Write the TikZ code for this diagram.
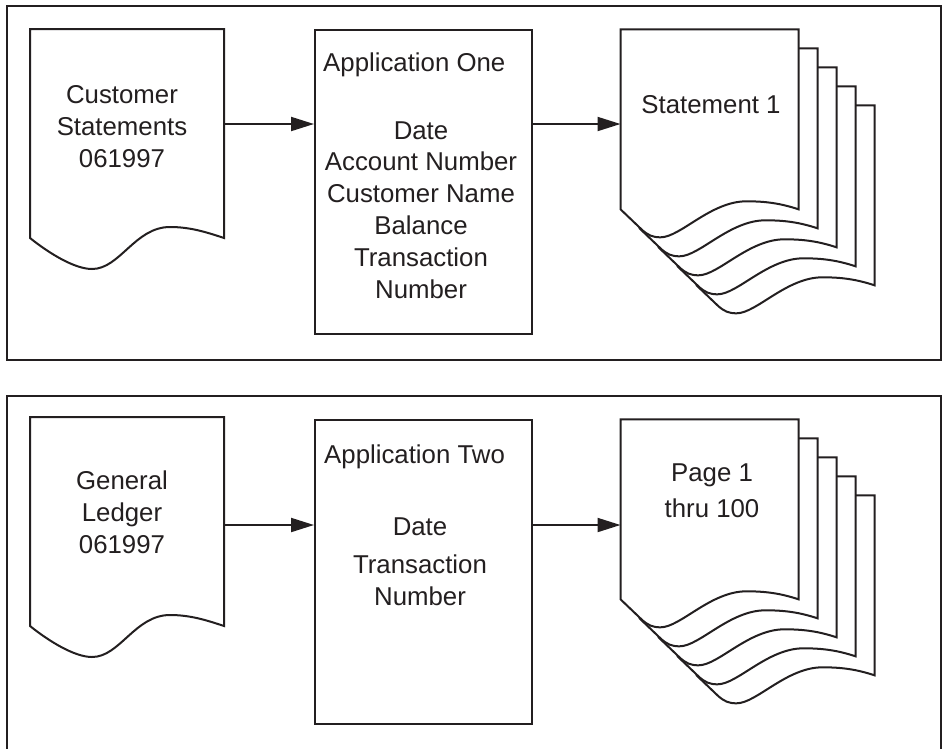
\documentclass[tikz,border=0pt]{standalone}
\usepackage{fontspec}
\setmainfont{Liberation Sans}
\usetikzlibrary{arrows.meta}
\definecolor{ink}{HTML}{231F20}
\tikzset{
  frame/.style={draw=ink, line width=2.4pt, inner sep=0pt, anchor=north west,
    minimum width=934pt, minimum height=354pt},
  procbox/.style={draw=ink, line width=2pt, fill=white, inner sep=0pt, anchor=north west,
    minimum width=217pt, minimum height=304pt},
  docarea/.style={inner sep=0pt, anchor=north west, minimum width=194pt, minimum height=209pt},
  sheetarea/.style={inner sep=0pt, anchor=north west, minimum width=178pt, minimum height=180pt},
  docline/.style={draw=ink, line width=2pt, fill=white, line join=miter},
  flow/.style={draw=ink, line width=2pt, -{Triangle[length=23pt,width=14pt]}},
  % multi-line labels are placed by the baseline of their last line
  lbl/.style={text=ink, inner sep=0pt, anchor=base, align=center,
    font=\fontsize{25.8}{31.8}\selectfont},
  pics/singledoc/.style={code={
    \draw[docline] (0,0) -- (194,0) -- (194,209)
      .. controls (176,203) and (160,198) .. (140,198)
      .. controls (105,198) and (90,240) .. (62,240)
      .. controls (45,240) and (20,225) .. (0,209) -- cycle;
  }},
  pics/sheetstack/.style={code={
    \foreach \k in {4,3,2,1,0}{
      \draw[docline, shift={(19*\k,19*\k)}] (0,0) -- (178,0) -- (178,180)
        .. controls (160,174) and (145,172) .. (126,172)
        .. controls (90,172) and (60,208) .. (40,208)
        .. controls (32,208) and (28,206) .. (22,201) -- (0,180) -- cycle;
    }
  }},
}
\begin{document}
\begin{tikzpicture}[x=1pt,y=-1pt]
\useasboundingbox (0,0) rectangle (944,748);

% ---- upper flow: customer statements ----
\node[frame] (frame1) at (6,5) {};
\node[docarea] (doc1) at (30,29) {};
\pic at (doc1.north west) {singledoc};
\node[lbl] (doc1txt) at (122,167) {Customer\\Statements\\061997};

\node[procbox] (app1) at (314,29) {};
\node[lbl, anchor=base west] (app1head) at (323,71) {Application One};
\node[lbl] (app1txt) at (421,298) {Date\\Account Number\\Customer Name\\Balance\\Transaction\\Number};

\node[sheetarea] (stack1) at (620.5,29.3) {};
\pic at (stack1.north west) {sheetstack};
\node[lbl] (stack1txt) at (711,113) {Statement 1};

\coordinate (j1) at ([yshift=-95pt]doc1.north east);
\coordinate (j2) at ([yshift=-95pt]app1.north east);
\draw[flow] (j1) -- (j1 -| app1.west);
\draw[flow] (j2) -- (j2 -| stack1.west);

% ---- lower flow: general ledger ----
\node[frame] (frame2) at (6,395) {};
\node[docarea] (doc2) at (30,417) {};
\pic at (doc2.north west) {singledoc};
\node[lbl] (doc2txt) at (122,553) {General\\Ledger\\061997};

\node[procbox] (app2) at (314,419) {};
\node[lbl, anchor=base west] (app2head) at (324,463) {Application Two};
\node[lbl] (app2txt) at (420,605) {Date\\[6pt]Transaction\\Number};

\node[sheetarea] (stack2) at (620.5,419.3) {};
\pic at (stack2.north west) {sheetstack};
\node[lbl] (stack2txt) at (712,517) {Page 1\\[4pt]thru 100};

\coordinate (j3) at ([yshift=-108pt]doc2.north east);
\coordinate (j4) at ([yshift=-106pt]app2.north east);
\draw[flow] (j3) -- (j3 -| app2.west);
\draw[flow] (j4) -- (j4 -| stack2.west);
\end{tikzpicture}
\end{document}
